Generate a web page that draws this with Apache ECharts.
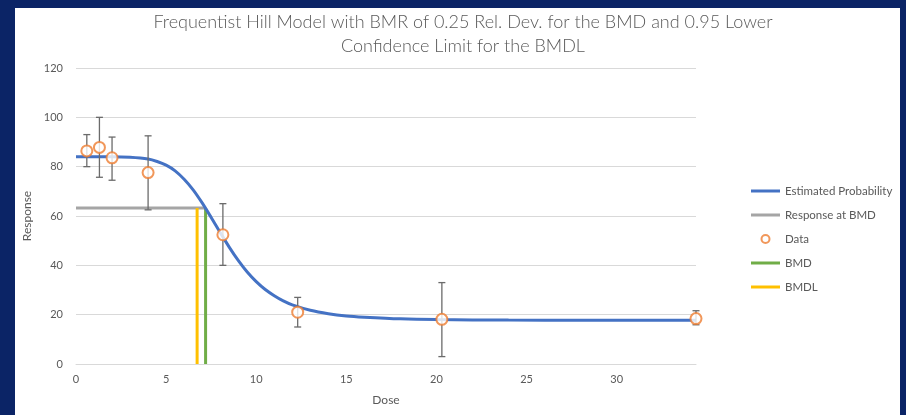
<!DOCTYPE html>
<html>
<head>
<meta charset="utf-8">
<script src="https://cdn.jsdelivr.net/npm/echarts@6/dist/echarts.min.js"></script>
<style>
html,body{margin:0;padding:0;background:#0b2466;}
#chart{width:906px;height:415px;}
</style>
</head>
<body>
<div id="chart"></div>
<script>
// ---- data ----
var titleText = 'Frequentist Hill Model with BMR of 0.25 Rel. Dev. for the BMD and 0.95 Lower\nConfidence Limit for the BMDL';
var legendNames = ['Estimated Probability', 'Response at BMD', 'Data', 'BMD', 'BMDL'];

// Estimated (fitted Hill) curve
var curveDose = [0, 1, 2, 3, 4, 4.5, 5, 5.5, 6, 6.5, 7, 7.5, 8, 8.5, 9, 9.5, 10, 10.5, 11, 11.5, 12, 13, 14, 15, 16, 18, 20, 24, 28, 34.4];
var curveResp = [84.0, 84.0, 84.0, 83.8, 83.1, 82.1, 80.6, 78.3, 74.9, 70.6, 65.3, 59.4, 53.3, 47.4, 42.0, 37.3, 33.4, 30.2, 27.7, 25.6, 24.0, 21.8, 20.4, 19.5, 19.0, 18.3, 18.0, 17.8, 17.75, 17.7];

// Observed data with error bars
var dataDose = [0.6, 1.3, 2.0, 4.0, 8.15, 12.3, 20.3, 34.4];
var dataMean = [86.4, 87.8, 83.6, 77.6, 52.4, 21.0, 18.1, 18.4];
var dataHigh = [93.0, 100.0, 92.0, 92.5, 65.0, 27.0, 33.0, 21.6];
var dataLow  = [80.0, 75.7, 74.5, 62.5, 40.0, 15.0, 3.0, 15.9];

// BMD markers
var bmrResponse = 63.2;
var bmdDose = 7.19;
var bmdlDose = 6.72;

// axes
var xMin = 0, xMax = 34.4, xInterval = 5;
var yMin = 0, yMax = 120, yInterval = 20;

// ---- build ----
var curveData = curveDose.map(function (d, i) { return [d, curveResp[i]]; });
var pointData = dataDose.map(function (d, i) { return [d, dataMean[i]]; });
var errData = dataDose.map(function (d, i) { return [d, dataLow[i], dataHigh[i]]; });

var FONT = 'Lato';
var GREY_TEXT = '#595959';
var LINE_ICON = 'path://M0,0H29V3H0Z';

var chart = echarts.init(document.getElementById('chart'), null, {renderer: 'canvas'});
chart.setOption({
  backgroundColor: '#0b2466',
  animation: false,
  graphic: [{
    type: 'rect', z: -10, silent: true,
    shape: {x: 15, y: 8, width: 885, height: 407},
    style: {fill: '#ffffff'}
  }],
  title: {
    text: titleText,
    left: 458, top: 5, textAlign: 'center',
    textStyle: {fontFamily: FONT, fontWeight: 300, fontSize: 18, color: GREY_TEXT, lineHeight: 24}
  },
  legend: {
    orient: 'vertical',
    left: 751, top: 184, padding: 0,
    itemWidth: 29, itemHeight: 8, itemGap: 10,
    symbolKeepAspect: true,
    data: legendNames.map(function (n) {
      return n === 'Data' ? {name: n, icon: 'emptyCircle'} : {name: n, icon: LINE_ICON};
    }),
    textStyle: {fontFamily: FONT, fontSize: 11.5, color: GREY_TEXT, lineHeight: 14}
  },
  grid: {left: 76, right: 210, top: 68, bottom: 51, containLabel: false},
  xAxis: {
    type: 'value', min: xMin, max: xMax, interval: xInterval,
    name: 'Dose', nameLocation: 'middle', nameGap: 30,
    nameTextStyle: {fontFamily: FONT, fontSize: 12, color: GREY_TEXT},
    axisLine: {show: true, lineStyle: {color: '#d9d9d9', width: 1}},
    axisTick: {show: false},
    splitLine: {show: false},
    axisLabel: {fontFamily: FONT, fontSize: 11, color: GREY_TEXT, margin: 10, showMaxLabel: false}
  },
  yAxis: {
    type: 'value', min: yMin, max: yMax, interval: yInterval,
    name: 'Response', nameLocation: 'middle', nameGap: 31,
    nameTextStyle: {fontFamily: FONT, fontSize: 12, color: GREY_TEXT},
    axisLine: {show: false},
    axisTick: {show: false},
    splitLine: {show: true, lineStyle: {color: '#d9d9d9', width: 1}},
    axisLabel: {fontFamily: FONT, fontSize: 11, color: GREY_TEXT, margin: 13}
  },
  series: [
    {
      name: 'Estimated Probability', type: 'line', data: curveData,
      smooth: 0.3, symbol: 'none', z: 5,
      lineStyle: {color: '#4472c4', width: 3},
      itemStyle: {color: '#4472c4'}
    },
    {
      name: 'Response at BMD', type: 'line', data: [[xMin, bmrResponse], [bmdDose, bmrResponse]],
      symbol: 'none', z: 3,
      lineStyle: {color: '#a5a5a5', width: 3},
      itemStyle: {color: '#a5a5a5'}
    },
    {
      name: 'errorbars', type: 'custom', data: errData, clip: false, z: 6,
      renderItem: function (params, api) {
        var x = api.value(0);
        var lo = api.coord([x, api.value(1)]);
        var hi = api.coord([x, api.value(2)]);
        var w = 3.5;
        var st = {stroke: '#6b6b6b', lineWidth: 1.3};
        return {
          type: 'group',
          children: [
            {type: 'line', shape: {x1: lo[0], y1: lo[1], x2: hi[0], y2: hi[1]}, style: st},
            {type: 'line', shape: {x1: hi[0] - w, y1: hi[1], x2: hi[0] + w, y2: hi[1]}, style: st},
            {type: 'line', shape: {x1: lo[0] - w, y1: lo[1], x2: lo[0] + w, y2: lo[1]}, style: st}
          ]
        };
      }
    },
    {
      name: 'Data', type: 'scatter', data: pointData, clip: false, z: 7,
      symbol: 'emptyCircle', symbolSize: 11,
      itemStyle: {color: '#ed7d31', borderColor: '#ed7d31', borderWidth: 1.5}
    },
    {
      name: 'BMD', type: 'line', data: [[bmdDose, yMin], [bmdDose, bmrResponse]],
      symbol: 'none', z: 4,
      lineStyle: {color: '#70ad47', width: 3},
      itemStyle: {color: '#70ad47'}
    },
    {
      name: 'BMDL', type: 'line', data: [[bmdlDose, yMin], [bmdlDose, bmrResponse]],
      symbol: 'none', z: 4,
      lineStyle: {color: '#ffc000', width: 3},
      itemStyle: {color: '#ffc000'}
    }
  ]
});
</script>
</body>
</html>
